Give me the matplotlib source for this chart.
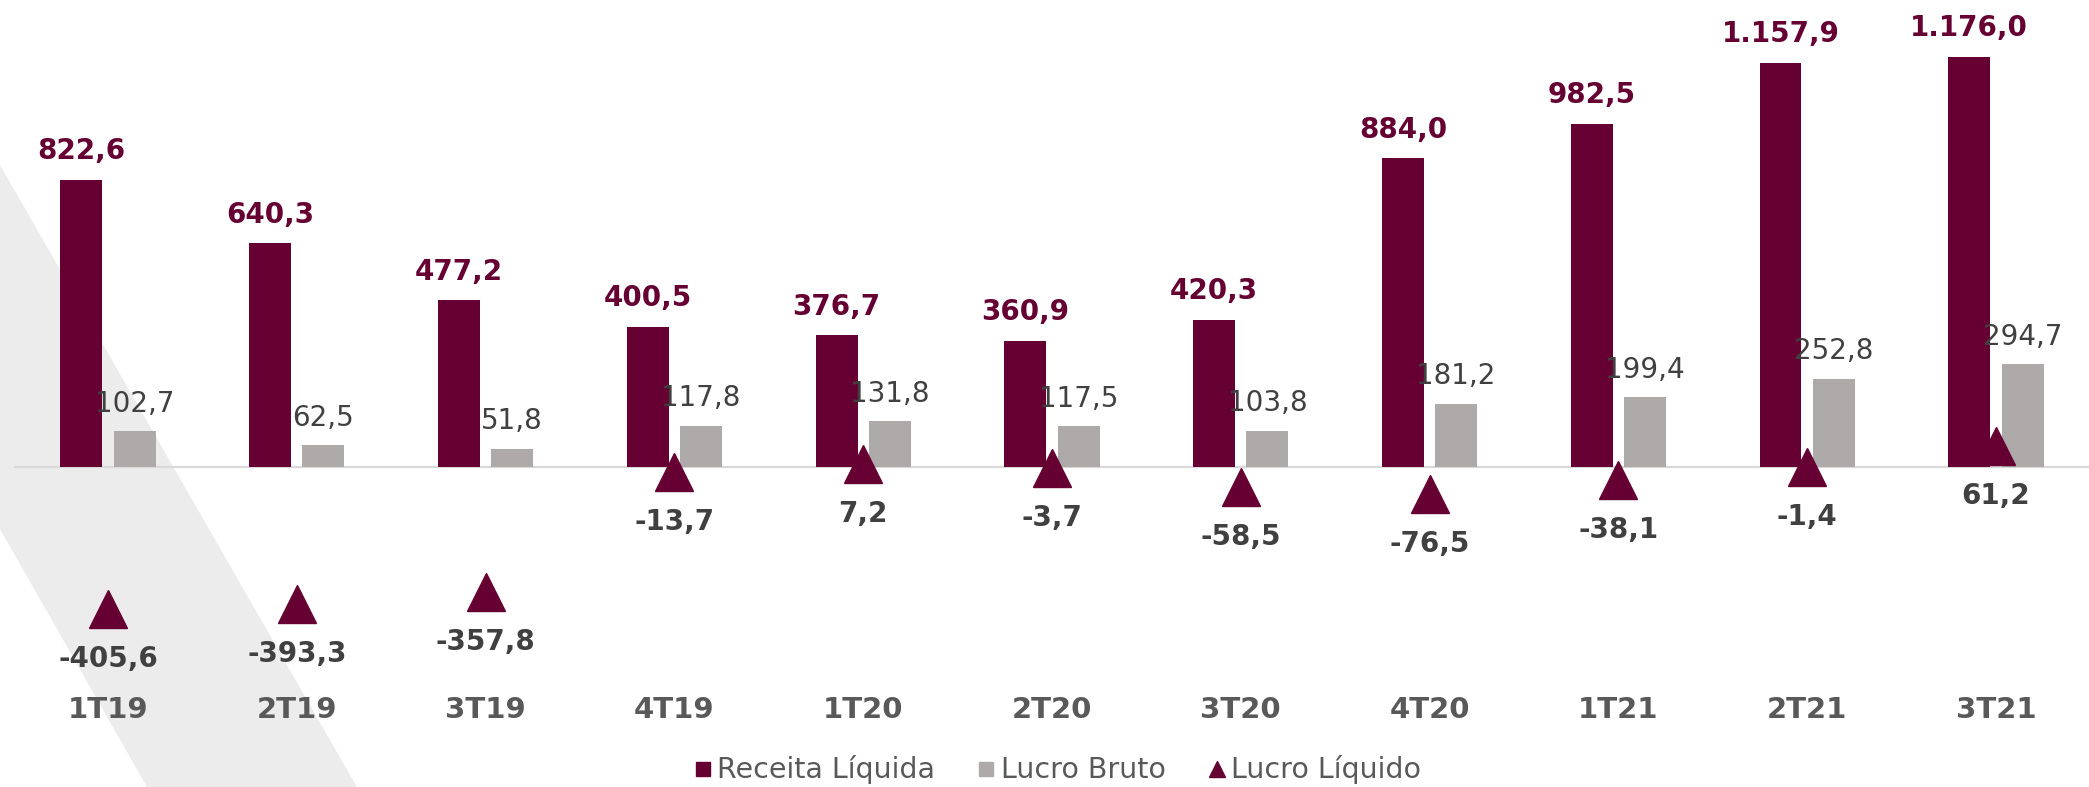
import numpy as np
import matplotlib
matplotlib.use("Agg")
import matplotlib.pyplot as plt
from matplotlib.lines import Line2D
from matplotlib.patches import Polygon

# -------------------------
# Data (R$ milhões)
# -------------------------
quarters = ["1T19", "2T19", "3T19", "4T19", "1T20", "2T20", "3T20",
            "4T20", "1T21", "2T21", "3T21"]
receita_liquida = [822.6, 640.3, 477.2, 400.5, 376.7, 360.9, 420.3,
                   884.0, 982.5, 1157.9, 1176.0]
lucro_bruto = [102.7, 62.5, 51.8, 117.8, 131.8, 117.5, 103.8,
               181.2, 199.4, 252.8, 294.7]
lucro_liquido = [-405.6, -393.3, -357.8, -13.7, 7.2, -3.7, -58.5,
                 -76.5, -38.1, -1.4, 61.2]

# -------------------------
# Style
# -------------------------
MAROON = "#660033"
GRAY_BAR = "#aeaaaa"
DARK_TXT = "#404040"
CAT_TXT = "#595959"
plt.rcParams["font.family"] = ["DejaVu Sans"]


def fmt_br(v):
    # brazilian number format: 1.157,9
    s = f"{v:,.1f}"
    return s.replace(",", "X").replace(".", ",").replace("X", ".")


fig = plt.figure(figsize=(20.89, 7.87), dpi=100)
W, H = 2089, 787

ax = fig.add_axes([0, 0, 1, 1])
ax.patch.set_visible(False)
for s in ax.spines.values():
    s.set_visible(False)
ax.set_xticks([])
ax.set_yticks([])

# decorative light stripe on the left (figure pixel coords)
stripe = [(0, 165), (357, 787), (147, 787), (0, 529)]
ax.add_patch(Polygon([(x / W, 1 - y / H) for x, y in stripe],
                     closed=True, transform=fig.transFigure,
                     facecolor="#ececec", edgecolor="none", zorder=0))

x = np.arange(len(quarters))
bw = 0.222
off = 0.141

ax.set_xlim(-0.572, 10.493)
ax.set_ylim(-917, 1338)

# zero line
ax.plot([-0.5, 10.493], [0, 0], color="#d9d9d9", lw=1.6, zorder=1,
        solid_capstyle="butt")

ax.bar(x - off, receita_liquida, width=bw, color=MAROON, zorder=2)
ax.bar(x + off, lucro_bruto, width=bw, color=GRAY_BAR, zorder=2)
ax.plot(x, lucro_liquido, linestyle="none", marker="^", markersize=27,
        color=MAROON, zorder=3)

for xi, v in zip(x, receita_liquida):
    ax.annotate(fmt_br(v), (xi - off, v), xytext=(0, 15),
                textcoords="offset points", ha="center", va="baseline",
                fontsize=20, fontweight="bold", color=MAROON)

for xi, v in zip(x, lucro_bruto):
    ax.annotate(fmt_br(v), (xi + off, v), xytext=(0, 14),
                textcoords="offset points", ha="center", va="baseline",
                fontsize=20, color=DARK_TXT)

for xi, v in zip(x, lucro_liquido):
    ax.annotate(fmt_br(v), (xi, v), xytext=(0, -36),
                textcoords="offset points", ha="center", va="center",
                fontsize=20, fontweight="bold", color=DARK_TXT)

for xi, q in zip(x, quarters):
    ax.text(xi, -696, q, ha="center", va="center", fontsize=21,
            fontweight="bold", color=CAT_TXT)

handles = [
    Line2D([], [], linestyle="none", marker="s", markersize=10, color=MAROON),
    Line2D([], [], linestyle="none", marker="s", markersize=10, color=GRAY_BAR),
    Line2D([], [], linestyle="none", marker="^", markersize=11, color=MAROON),
]
fig.legend(handles, ["Receita Líquida", "Lucro Bruto", "Lucro Líquido"],
           loc="center", bbox_to_anchor=(0.5066, 17 / H), ncol=3,
           frameon=False, fontsize=20.5, labelcolor=CAT_TXT,
           handlelength=0.5, handletextpad=0.25, columnspacing=1.55)

plt.savefig("out.png", dpi=100)
